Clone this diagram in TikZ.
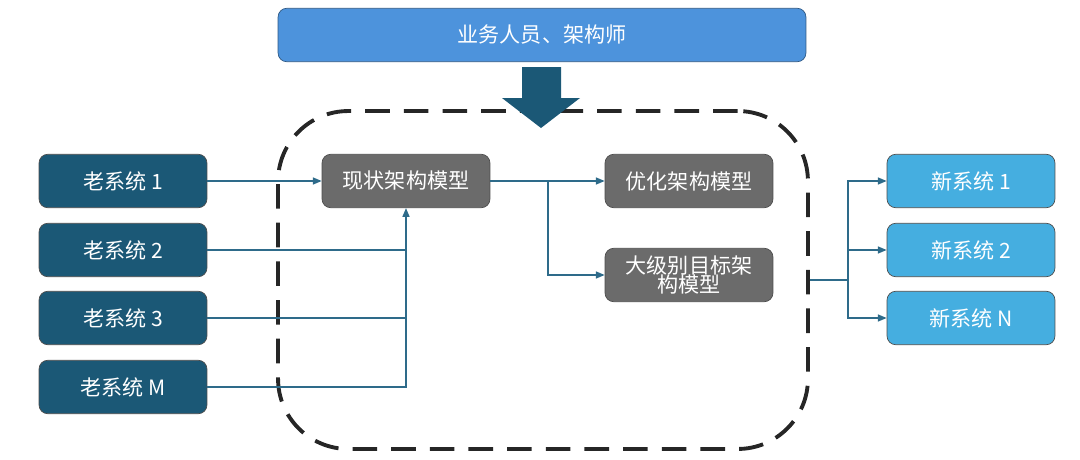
\documentclass[tikz,border=0pt]{standalone}
\usepackage{fontspec}
\setmainfont{Noto Sans CJK SC}
\usetikzlibrary{positioning,arrows.meta}
\begin{document}
\begin{tikzpicture}[x=0.02cm,y=-0.02cm]
    %colores
    \colorlet{oldc}{blue!45!black!60!cyan!70!black}
    \definecolor{oldc}{HTML}{1B5876}
    \definecolor{newc}{HTML}{45AEE0}
    \definecolor{topc}{HTML}{4D93DC}
    \definecolor{grayc}{HTML}{6B6B6B}
    \definecolor{linec}{HTML}{2E6B8A}
    \tikzset{
        box/.style={draw=black!70,rounded corners=5pt,minimum width=3.36cm,minimum height=1.07cm,text=white,font=\large,align=center,inner sep=1pt},
        old/.style={box,fill=oldc},
        new/.style={box,fill=newc},
        model/.style={box,fill=grayc,font=\normalsize\large},
        link/.style={linec,thick,-{Triangle[length=5pt,width=4pt]}},
        line/.style={linec,thick}
    }
    \useasboundingbox (0,0) rectangle (1080,460);

    % Marco punteado
    \node[draw=black!85,line width=2.2pt,dash pattern=on 14pt off 8pt,rounded corners=40pt,
        minimum width=10.6cm,minimum height=6.76cm] (frame) at (543,280) {};
    % Caja superior y flecha
    \node[box,fill=topc,draw=topc!60!black,minimum width=10.56cm] (users) at (542,35) {业务人员、架构师};
    \fill[oldc] (522,67) -- (561,67) -- (561,98) -- (580,98) -- (541,128) -- (502,98) -- (522,98) -- cycle;

    % Sistemas viejos
    \foreach \i/\y/\t in {1/181/1, 2/250/2, 3/318/3, 4/387/M}
        \node[old] (old\i) at (123,\y) {老系统 \t};
    % Sistemas nuevos
    \foreach \i/\y/\t in {1/181/1, 2/250/2, 3/318/N}
        \node[new] (new\i) at (971,\y) {新系统 \t};

    % Modelos
    \node[model] (cur) at (406,181) {现状架构模型};
    \node[model] (opt) at (689,181) {优化架构模型};
    \node[model] (tgt) at (689,275) {大级别目标架\\[-3pt]构模型};

    % Conexiones
    \draw[link] (old1) -- (cur);
    \draw[line] (old2.east) -- (407,250);
    \draw[line] (old3.east) -- (407,318);
    \draw[link] (old4.east) -| (cur.south);
    \draw[link] (cur) -- (opt);
    \coordinate (split) at (548,181);
    \draw[link] (split) |- (tgt);
    \coordinate (join) at (848,280);
    \draw[line] (frame.east |- join) -- (join);
    \draw[link] (join) |- (new1);
    \draw[link] (join) |- (new2);
    \draw[link] (join) |- (new3);
\end{tikzpicture}
\end{document}
